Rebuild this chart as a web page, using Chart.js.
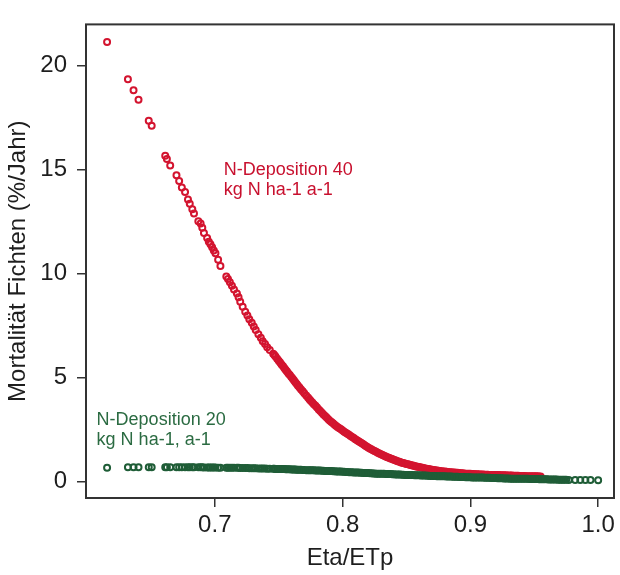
<!DOCTYPE html>
<html>
<head>
<meta charset="utf-8">
<script src="https://cdn.jsdelivr.net/npm/chart.js@4.4.1/dist/chart.umd.min.js"></script>
<style>
  body { margin: 0; background: #fff; }
  canvas { display: block; }
</style>
</head>
<body>
<canvas id="mort-chart" width="620" height="575"></canvas>
<script>
// Eta/ETp values (shared by both scenarios)
const eta = [
  0.6157, 0.6320, 0.6364, 0.6403, 0.6483, 0.6506, 0.6612, 0.6625, 0.6651, 0.6700,
  0.6721, 0.6742, 0.6767, 0.6790, 0.6804, 0.6824, 0.6837, 0.6871, 0.6889, 0.6902,
  0.6915, 0.6940, 0.6953, 0.6966, 0.6979, 0.6992, 0.7005, 0.7026, 0.7044, 0.7090,
  0.7103, 0.7118, 0.7134, 0.7150, 0.7173, 0.7186, 0.7199, 0.7218, 0.7238, 0.7255,
  0.7270, 0.7289, 0.7305, 0.7320, 0.7341, 0.7360, 0.7375, 0.7393, 0.7410, 0.7430,
  0.7457, 0.7466, 0.7475, 0.7488, 0.7500, 0.7511, 0.7522, 0.7534, 0.7545, 0.7555,
  0.7565, 0.7576, 0.7587, 0.7599, 0.7610, 0.7620, 0.7630, 0.7641, 0.7651, 0.7663,
  0.7675, 0.7688, 0.7700, 0.7715, 0.7729, 0.7740, 0.7750, 0.7763, 0.7775, 0.7788,
  0.7800, 0.7813, 0.7825, 0.7838, 0.7850, 0.7863, 0.7875, 0.7888, 0.7900,
  0.79125, 0.7925, 0.79375, 0.7950, 0.79625, 0.7975, 0.79875, 0.8000,
  0.80125, 0.8025, 0.80375, 0.8050, 0.80625, 0.8075, 0.80875, 0.8100,
  0.81125, 0.8125, 0.81375, 0.8150, 0.81625, 0.8175, 0.81875, 0.8200,
  0.82125, 0.8225, 0.82375, 0.8250, 0.82625, 0.8275, 0.82875, 0.8300,
  0.83125, 0.8325, 0.83375, 0.8350, 0.83625, 0.8375, 0.83875, 0.8400,
  0.84125, 0.8425, 0.84375, 0.8450, 0.84625, 0.8475, 0.84875, 0.8500,
  0.85125, 0.8525, 0.85375, 0.8550, 0.85625, 0.8575, 0.85875, 0.8600,
  0.86125, 0.8625, 0.86375, 0.8650, 0.86625, 0.8675, 0.86875, 0.8700,
  0.87125, 0.8725, 0.87375, 0.8750, 0.87625, 0.8775, 0.87875, 0.8800,
  0.88125, 0.8825, 0.88375, 0.8850, 0.88625, 0.8875, 0.88875, 0.8900,
  0.89125, 0.8925, 0.89375, 0.8950, 0.89625, 0.8975, 0.89875, 0.9000,
  0.90125, 0.9025, 0.90375, 0.9050, 0.90625, 0.9075, 0.90875, 0.9100,
  0.91125, 0.9125, 0.91375, 0.9150, 0.91625, 0.9175, 0.91875, 0.9200,
  0.92125, 0.9225, 0.92375, 0.9250, 0.92625, 0.9275, 0.92875, 0.9300,
  0.93125, 0.9325, 0.93375, 0.9350, 0.93625, 0.9375, 0.93875, 0.9400,
  0.94125, 0.9425, 0.94375, 0.9450, 0.94625, 0.9475, 0.94875, 0.9500,
  0.95125, 0.9525, 0.95375, 0.9550,
  0.95625, 0.9575, 0.95875, 0.9600, 0.96125, 0.9625, 0.96375, 0.9650,
  0.96625, 0.9675, 0.96875, 0.9700, 0.97125, 0.9725, 0.97375, 0.9750,
  0.9770, 0.9820, 0.9860, 0.9900, 0.9940, 1.0000
];

// Mortalität (%/Jahr), N-Deposition 40
const mortN40 = [
  21.12, 19.33, 18.81, 18.35, 17.34, 17.10, 15.66, 15.50, 15.19, 14.72,
  14.44, 14.13, 13.91, 13.55, 13.35, 13.08, 12.88, 12.51, 12.40, 12.19,
  11.94, 11.70, 11.52, 11.40, 11.26, 11.10, 10.97, 10.66, 10.35, 9.85,
  9.73, 9.57, 9.41, 9.22, 9.03, 8.85, 8.63, 8.40, 8.16, 7.98,
  7.80, 7.62, 7.45, 7.28, 7.07, 6.90, 6.74, 6.60, 6.45, 6.32,
  6.14, 6.07, 6.00, 5.90, 5.80, 5.71, 5.62, 5.53, 5.44, 5.36,
  5.28, 5.19, 5.11, 5.02, 4.93, 4.85, 4.77, 4.68, 4.60, 4.51,
  4.42, 4.33, 4.24, 4.13, 4.03, 3.95, 3.88, 3.79, 3.71, 3.63,
  3.55, 3.46, 3.38, 3.30, 3.22, 3.14, 3.07, 2.99, 2.92,
  2.85, 2.79, 2.72, 2.66, 2.60, 2.55, 2.50, 2.45,
  2.39, 2.34, 2.29, 2.24, 2.18, 2.13, 2.08, 2.03,
  1.98, 1.93, 1.88, 1.83, 1.78, 1.73, 1.68, 1.63,
  1.58, 1.54, 1.50, 1.46, 1.42, 1.38, 1.34, 1.30,
  1.27, 1.23, 1.20, 1.16, 1.13, 1.10, 1.07, 1.04,
  1.01, 0.98, 0.95, 0.93, 0.90, 0.88, 0.86, 0.84,
  0.82, 0.80, 0.78, 0.76, 0.74, 0.72, 0.70, 0.69,
  0.67, 0.65, 0.63, 0.62, 0.60, 0.59, 0.57, 0.56,
  0.55, 0.53, 0.52, 0.51, 0.50, 0.49, 0.48, 0.47,
  0.46, 0.45, 0.44, 0.44, 0.43, 0.42, 0.41, 0.41,
  0.40, 0.39, 0.39, 0.38, 0.37, 0.37, 0.36, 0.36,
  0.35, 0.35, 0.34, 0.34, 0.34, 0.33, 0.33, 0.33,
  0.32, 0.32, 0.32, 0.31, 0.31, 0.31, 0.30, 0.30,
  0.30, 0.30, 0.29, 0.29, 0.29, 0.29, 0.28, 0.28,
  0.28, 0.28, 0.27, 0.27, 0.27, 0.27, 0.26, 0.26,
  0.26, 0.26, 0.25, 0.25, 0.25, 0.25, 0.24, 0.24,
  0.24, 0.24, 0.23, 0.23
];

// Mortalität (%/Jahr), N-Deposition 20
const mortN20 = [
  0.66, 0.68, 0.68, 0.68, 0.68, 0.68, 0.68, 0.68, 0.68, 0.68,
  0.68, 0.68, 0.68, 0.68, 0.68, 0.68, 0.68, 0.68, 0.68, 0.68,
  0.67, 0.67, 0.67, 0.67, 0.67, 0.67, 0.67, 0.66, 0.66, 0.66,
  0.66, 0.66, 0.65, 0.65, 0.65, 0.65, 0.64, 0.64, 0.64, 0.64,
  0.63, 0.63, 0.63, 0.63, 0.62, 0.62, 0.62, 0.62, 0.61, 0.61,
  0.61, 0.61, 0.60, 0.60, 0.60, 0.59, 0.59, 0.59, 0.59, 0.58,
  0.58, 0.58, 0.58, 0.57, 0.57, 0.57, 0.57, 0.56, 0.56, 0.56,
  0.56, 0.55, 0.55, 0.54, 0.54, 0.54, 0.54, 0.53, 0.53, 0.52,
  0.52, 0.52, 0.52, 0.51, 0.51, 0.50, 0.50, 0.50, 0.50,
  0.50, 0.49, 0.49, 0.48, 0.48, 0.47, 0.47, 0.46,
  0.46, 0.45, 0.45, 0.44, 0.44, 0.44, 0.43, 0.43,
  0.42, 0.42, 0.41, 0.41, 0.40, 0.40, 0.40, 0.40,
  0.39, 0.39, 0.38, 0.38, 0.37, 0.37, 0.37, 0.37,
  0.36, 0.36, 0.35, 0.35, 0.35, 0.35, 0.34, 0.34,
  0.33, 0.33, 0.33, 0.33, 0.32, 0.32, 0.31, 0.31,
  0.31, 0.31, 0.30, 0.30, 0.29, 0.29, 0.29, 0.29,
  0.28, 0.28, 0.28, 0.28, 0.27, 0.27, 0.26, 0.26,
  0.26, 0.26, 0.25, 0.25, 0.25, 0.25, 0.24, 0.24,
  0.23, 0.23, 0.23, 0.23, 0.22, 0.22, 0.22, 0.22,
  0.21, 0.21, 0.21, 0.21, 0.20, 0.20, 0.20, 0.20,
  0.19, 0.19, 0.19, 0.19, 0.18, 0.18, 0.18, 0.18,
  0.17, 0.17, 0.17, 0.17, 0.16, 0.16, 0.16, 0.16,
  0.15, 0.15, 0.15, 0.15, 0.14, 0.14, 0.14, 0.14,
  0.13, 0.13, 0.13, 0.13, 0.13, 0.13, 0.12, 0.12,
  0.12, 0.12, 0.12, 0.12, 0.11, 0.11, 0.11, 0.11,
  0.11, 0.11, 0.10, 0.10,
  0.10, 0.10, 0.10, 0.10, 0.09, 0.09, 0.09, 0.09,
  0.09, 0.09, 0.08, 0.08, 0.08, 0.08, 0.08, 0.08,
  0.07, 0.07, 0.06, 0.06, 0.06, 0.05
];

const xTicks = [0.7, 0.8, 0.9, 1.0];
const yTicks = [0, 5, 10, 15, 20];

const xTitle = 'Eta/ETp';
const yTitle = 'Mortalität Fichten (%/Jahr)';

const colors = {
    n40:    '#d3142f',
    n40txt: '#c8102e',
    n20:    '#1f5d37',
    n20txt: '#2b6b42',
    axis:   '#333333',
    text:   '#1e1e1e'
};

// text labels next to the curves (x, y in data units = left end of first baseline)
const notes = [
    { lines: ['N-Deposition 40', 'kg N ha-1 a-1'], x: 0.7070, y: 14.72, color: colors.n40txt },
    { lines: ['N-Deposition 20', 'kg N ha-1, a-1'], x: 0.6075, y: 2.70, color: colors.n20txt }
];

const tickFont = { family: '"Liberation Sans Narrow", "Liberation Sans", Arial, sans-serif', size: 24 };

const framePlugin = {
    id: 'frame',
    afterDraw(chart) {
        const { ctx, chartArea: a, scales: { x, y } } = chart;
        ctx.save();
        ctx.strokeStyle = colors.axis;
        ctx.lineWidth = 2;
        ctx.strokeRect(a.left, a.top, a.right - a.left, a.bottom - a.top);
        ctx.font = '18px "Liberation Sans", Arial, sans-serif';
        ctx.textBaseline = 'alphabetic';
        notes.forEach(n => {
            ctx.fillStyle = n.color;
            n.lines.forEach((t, i) => {
                ctx.fillText(t, x.getPixelForValue(n.x), y.getPixelForValue(n.y) + i * 20);
            });
        });
        ctx.restore();
    }
};

const toPoints = ys => ys.map((v, i) => ({ x: eta[i], y: v }));

const ctx = document.getElementById('mort-chart').getContext('2d');

new Chart(ctx, {
    type: 'scatter',
    data: {
        datasets: [
            {
                label: 'N-Deposition 20',
                data: toPoints(mortN20),
                pointStyle: 'circle',
                pointRadius: 3,
                borderWidth: 2,
                borderColor: colors.n20,
                backgroundColor: 'rgba(0,0,0,0)'
            },
            {
                label: 'N-Deposition 40',
                data: toPoints(mortN40),
                pointStyle: 'circle',
                pointRadius: 3,
                borderWidth: 2,
                borderColor: colors.n40,
                backgroundColor: 'rgba(0,0,0,0)'
            }
        ]
    },
    options: {
        responsive: false,
        devicePixelRatio: 1,
        animation: false,
        layout: { padding: { top: 12, right: 1, left: 0, bottom: 0 } },
        plugins: {
            legend: { display: false },
            tooltip: { enabled: false }
        },
        scales: {
            x: {
                type: 'linear',
                min: 0.5992,
                max: 1.0124,
                afterFit: s => { s.height = 77; },
                afterBuildTicks: s => { s.ticks = xTicks.map(v => ({ value: v })); },
                ticks: {
                    autoSkip: false,
                    maxRotation: 0,
                    padding: 4,
                    color: colors.text,
                    font: tickFont,
                    callback: v => v.toFixed(1)
                },
                grid: {
                    drawOnChartArea: false,
                    drawTicks: true,
                    tickLength: 9,
                    color: colors.axis,
                    lineWidth: 1.5
                },
                border: { display: false },
                title: {
                    display: true,
                    text: xTitle,
                    color: colors.text,
                    font: { family: tickFont.family, size: 24 },
                    padding: { top: 0, bottom: 2 }
                }
            },
            y: {
                type: 'linear',
                min: -0.8,
                max: 21.97,
                afterFit: s => { s.width = 86; },
                afterBuildTicks: s => { s.ticks = yTicks.map(v => ({ value: v })); },
                ticks: {
                    autoSkip: false,
                    padding: 10,
                    color: colors.text,
                    font: tickFont,
                    callback: v => String(v)
                },
                grid: {
                    drawOnChartArea: false,
                    drawTicks: true,
                    tickLength: 9,
                    color: colors.axis,
                    lineWidth: 1.5
                },
                border: { display: false },
                title: {
                    display: true,
                    text: yTitle,
                    color: colors.text,
                    font: { family: '"Liberation Sans", Arial, sans-serif', size: 24 },
                    padding: { top: 4, bottom: 0 }
                }
            }
        }
    },
    plugins: [framePlugin]
});
</script>
</body>
</html>
